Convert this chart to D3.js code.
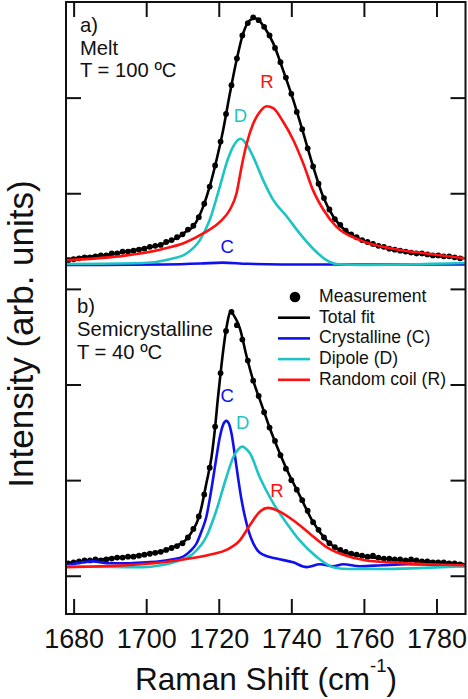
<!DOCTYPE html>
<html><head><meta charset="utf-8">
<script src="https://cdn.jsdelivr.net/npm/d3@7"></script>
<style>body{margin:0;background:#fff}svg{display:block}text{font-family:"Liberation Sans",Arial,Helvetica,sans-serif}</style>
</head><body><svg id="c" width="468" height="699"></svg>
<script>
// ---------- data ----------
const xTicks = [1680, 1700, 1720, 1740, 1760, 1780];
const yTicks = [0, 1, 2, 3, 4, 5];
const seriesNames = ["Measurement", "Total fit", "Crystalline (C)", "Dipole (D)", "Random coil (R)"];
const seriesColors = ["#000000", "#000000", "#1010ee", "#1ec4c4", "#ff1010"];

const measX = [1678.5,1680,1681.5,1683,1684.5,1686,1687.5,1689,1690.5,1692,1693.5,1695,1696.5,1698,1699.5,1701,1702.5,1704,1705.5,1707,1708.5,1710,1711.5,1713,1714.5,1716,1717.5,1719,1720.5,1722,1723.5,1725,1726.5,1728,1729.5,1731,1732.5,1734,1735.5,1737,1738.5,1740,1741.5,1743,1744.5,1746,1747.5,1749,1750.5,1752,1753.5,1755,1756.5,1758,1759.5,1761,1762.5,1764,1765.5,1767,1768.5,1770,1771.5,1773,1774.5,1776,1777.5,1779,1780.5,1782,1783.5,1785,1786.5];

// Panel a) Melt, T = 100 ºC
const meltMeas = [0.05,0.06,0.07,0.08,0.08,0.09,0.10,0.10,0.12,0.12,0.14,0.14,0.15,0.16,0.17,0.19,0.20,0.21,0.24,0.26,0.29,0.32,0.37,0.41,0.50,0.64,0.82,1.04,1.29,1.58,1.88,2.16,2.40,2.53,2.59,2.56,2.49,2.40,2.27,2.12,1.96,1.79,1.60,1.42,1.22,1.03,0.85,0.70,0.58,0.48,0.42,0.36,0.32,0.29,0.26,0.24,0.22,0.20,0.19,0.17,0.16,0.15,0.14,0.13,0.12,0.12,0.11,0.10,0.10,0.09,0.09,0.08,0.07];
const meltFit = [[1678,0.06],[1685,0.09],[1690,0.11],[1694.6,0.14],[1700,0.18],[1703.8,0.21],[1707,0.26],[1709.3,0.30],[1711,0.35],[1712.9,0.40],[1714.5,0.50],[1715.7,0.61],[1717.5,0.82],[1719.4,1.10],[1721.2,1.41],[1723.1,1.80],[1724.9,2.14],[1726.7,2.42],[1728.6,2.56],[1730,2.58],[1731.5,2.54],[1733,2.46],[1735,2.32],[1737.7,2.04],[1740.5,1.73],[1743.3,1.38],[1746,1.03],[1748.8,0.71],[1751.5,0.51],[1755.2,0.35],[1760.7,0.24],[1768,0.16],[1777.2,0.11],[1787.8,0.07]];
const meltC = [[1678,0.0],[1705,0.005],[1715,0.015],[1721,0.025],[1728,0.012],[1745,0.005],[1787.8,0.005]];
const meltD = [[1678,0.01],[1699.2,0.02],[1706.5,0.06],[1711.1,0.12],[1714.8,0.26],[1717.5,0.47],[1720.3,0.82],[1722.1,1.06],[1724,1.24],[1726,1.32],[1727.7,1.26],[1729.5,1.13],[1732.2,0.89],[1735,0.68],[1738.7,0.51],[1742.3,0.33],[1746,0.17],[1749.7,0.05],[1752.4,0.01],[1758.9,0.0],[1787.8,0.02]];
const meltR = [[1678,0.05],[1694.6,0.10],[1703.8,0.16],[1711.1,0.24],[1715.7,0.33],[1720.3,0.45],[1723.1,0.58],[1724.9,0.75],[1726.3,1.03],[1727.7,1.27],[1729.5,1.48],[1731.3,1.60],[1733.2,1.66],[1735,1.64],[1737.7,1.50],[1740.5,1.31],[1743.3,1.06],[1746,0.78],[1748.8,0.58],[1752.4,0.40],[1758.9,0.26],[1768,0.17],[1777.2,0.12],[1787.8,0.07]];

// Panel b) Semicrystalline, T = 40 ºC
const semiMeas = [0.04,0.05,0.06,0.07,0.07,0.08,0.07,0.08,0.09,0.10,0.10,0.11,0.11,0.12,0.13,0.14,0.15,0.16,0.18,0.20,0.22,0.25,0.31,0.40,0.53,0.76,1.04,1.47,2.03,2.47,2.67,2.53,2.38,2.16,1.95,1.79,1.62,1.46,1.32,1.17,1.03,0.91,0.81,0.70,0.59,0.47,0.39,0.31,0.25,0.21,0.18,0.16,0.14,0.13,0.12,0.11,0.12,0.10,0.09,0.09,0.08,0.08,0.07,0.08,0.07,0.06,0.06,0.05,0.05,0.05,0.04,0.04,0.03];
const semiFit = [[1678,0.04],[1685,0.07],[1690,0.09],[1695,0.11],[1699.2,0.13],[1702,0.15],[1705.6,0.18],[1708,0.22],[1710.2,0.26],[1711.5,0.31],[1712.9,0.39],[1714,0.47],[1714.8,0.56],[1716.6,0.88],[1718,1.15],[1718.9,1.43],[1719.8,1.78],[1720.8,2.13],[1722.1,2.50],[1723.3,2.67],[1724.2,2.63],[1725.8,2.50],[1727.7,2.20],[1729.5,1.95],[1731.8,1.70],[1734.1,1.45],[1736.5,1.22],[1739,1.00],[1742.3,0.75],[1746,0.47],[1749.7,0.28],[1754.3,0.16],[1760.7,0.11],[1768,0.08],[1777.2,0.06],[1787.8,0.03]];
const semiC = [[1678,0.02],[1685.4,0.06],[1690,0.04],[1694.6,0.04],[1700,0.05],[1703.8,0.06],[1707,0.08],[1710.2,0.11],[1712.2,0.17],[1713.9,0.25],[1715.3,0.38],[1716.6,0.53],[1717.6,0.73],[1718.5,0.94],[1719.4,1.16],[1720.3,1.36],[1721.2,1.49],[1722.1,1.53],[1722.8,1.50],[1723.5,1.40],[1724.4,1.18],[1725.3,0.94],[1726.2,0.72],[1727.2,0.53],[1728.3,0.37],[1729.5,0.25],[1730.8,0.17],[1732.2,0.13],[1735.9,0.09],[1740.5,0.05],[1744.2,0.0],[1747.9,0.03],[1751.5,0.01],[1754.3,0.03],[1758.9,0.01],[1765,0.02],[1772,0.03],[1787.8,0.01]];
const semiD = [[1678,0.01],[1699.2,0.0],[1704,0.02],[1708.3,0.06],[1712.9,0.14],[1716.6,0.32],[1719.4,0.60],[1722.1,0.94],[1724,1.15],[1725.3,1.23],[1726.6,1.26],[1727.7,1.23],[1728.6,1.19],[1731.3,0.94],[1735,0.67],[1738.7,0.46],[1742.3,0.28],[1746.9,0.11],[1751.5,0.0],[1756.1,-0.02],[1765,-0.02],[1775,-0.01],[1787.8,0.01]];
const semiR = [[1678,0.0],[1694.6,0.02],[1708.3,0.07],[1717.5,0.13],[1722.1,0.18],[1725.8,0.28],[1728.6,0.44],[1731.3,0.58],[1733.6,0.62],[1736.8,0.58],[1740.5,0.49],[1745.1,0.35],[1749.7,0.21],[1754.3,0.13],[1760.7,0.07],[1768,0.05],[1777.2,0.03],[1787.8,0.02]];

const panelText = [["a)", "Melt", "T = 100 ºC"], ["b)", "Semicrystalline", "T = 40 ºC"]];
const peakLabels = [
  [["R", 1733.3, 1.85], ["D", 1726.0, 1.50], ["C", 1722.3, 0.13]],
  [["C", 1722.3, 1.73], ["D", 1726.6, 1.44], ["R", 1736.0, 0.73]]
];

// ---------- layout ----------
const L = 66, R = 465.5, T = 2, B = 614;
const panelBase = [3.25, 0.09];   // baseline offset of each panel on the shared frame scale
const svg = d3.select("#c");
const x = d3.scaleLinear().domain([1677.9, 1788]).range([L, R]);
const y = d3.scaleLinear().domain([-0.4, 6]).range([B, T]);

// scale a text's font size so its rendered width matches target
function fitFont(sel, target) {
  const fs = +sel.attr("font-size");
  const bb = sel.node().getBBox();
  return fs * target / bb.width;
}

svg.append("defs").append("clipPath").attr("id", "clip")
  .append("rect").attr("x", L).attr("y", T).attr("width", R - L).attr("height", B - T);

const panels = [
  {meas: meltMeas, fit: meltFit, comps: [meltC, meltD, meltR]},
  {meas: semiMeas, fit: semiFit, comps: [semiC, semiD, semiR]}
];

const plot = svg.append("g").attr("clip-path", "url(#clip)");
panels.forEach((p, i) => {
  const base = panelBase[i];
  const line = d3.line().x(d => x(d[0])).y(d => y(d[1] + base)).curve(d3.curveMonotoneX);
  const g = plot.append("g");
  g.selectAll("circle").data(d3.zip(measX, p.meas)).join("circle")
    .attr("cx", d => x(d[0])).attr("cy", d => y(d[1] + base)).attr("r", 2.9).attr("fill", "#000");
  g.append("path").datum(p.fit).attr("d", line).attr("fill", "none")
    .attr("stroke", seriesColors[1]).attr("stroke-width", 2.6);
  p.comps.forEach((c, k) => {
    g.append("path").datum(c).attr("d", line).attr("fill", "none")
      .attr("stroke", seriesColors[k + 2]).attr("stroke-width", 2.6).attr("stroke-linejoin", "round");
  });
  peakLabels[i].forEach(([t, px, py]) => {
    const k = ["C", "D", "R"].indexOf(t);
    svg.append("text").attr("x", x(px)).attr("y", y(py + base)).attr("text-anchor", "middle")
      .attr("font-size", 18.5).attr("fill", seriesColors[k + 2]).text(t);
  });
});

// panel annotations
const annX = [80, 77], annY = [[32, 55, 77], [313, 336, 359]];
const probe = svg.append("text").attr("font-size", 20).text("Semicrystalline");
const annFs = fitFont(probe, 136);
probe.remove();
panelText.forEach((lines, i) => {
  lines.forEach((t, j) => {
    svg.append("text").attr("x", annX[i]).attr("y", annY[i][j]).attr("font-size", annFs).attr("fill", "#111").text(t);
  });
});

// axes (ticks inward)
const ax = (g, a) => { g.call(a); g.select(".domain").remove(); g.selectAll(".tick line").attr("stroke", "#111").attr("stroke-width", 2); };
const p2 = svg.append("text").attr("font-size", 28).text("1680");
const tickFs = fitFont(p2, 60);
p2.remove();
const bx = svg.append("g").attr("transform", `translate(0,${B})`)
  .call(g => ax(g, d3.axisBottom(x).tickValues(xTicks).tickSizeInner(-15).tickSizeOuter(0).tickPadding(0).tickFormat(d3.format("d"))));
bx.selectAll("text").attr("font-size", tickFs).attr("fill", "#111").attr("dy", null).attr("y", 34);
svg.append("g").attr("transform", `translate(0,${T})`)
  .call(g => ax(g, d3.axisTop(x).tickValues(xTicks).tickSizeInner(-15).tickSizeOuter(0).tickFormat("")));
svg.append("g").attr("transform", `translate(${L},0)`)
  .call(g => ax(g, d3.axisLeft(y).tickValues(yTicks).tickSizeInner(-15).tickSizeOuter(0).tickFormat("")));
svg.append("g").attr("transform", `translate(${R},0)`)
  .call(g => ax(g, d3.axisRight(y).tickValues(yTicks).tickSizeInner(-15).tickSizeOuter(0).tickFormat("")));

// frame
svg.append("rect").attr("x", L).attr("y", T).attr("width", R - L).attr("height", B - T)
  .attr("fill", "none").attr("stroke", "#111").attr("stroke-width", 2);

// legend
const lgX = 278, lgY0 = 302, lgDy = 20.7;
const p3 = svg.append("text").attr("font-size", 17.6).text("Random coil (R)");
const lgFs = fitFont(p3, 127);
p3.remove();
seriesNames.forEach((n, i) => {
  const yy = lgY0 + i * lgDy;
  if (i === 0) {
    svg.append("circle").attr("cx", 295).attr("cy", yy - 5).attr("r", 5.3).attr("fill", "#000");
  } else {
    svg.append("line").attr("x1", lgX).attr("x2", lgX + 32).attr("y1", yy - 5).attr("y2", yy - 5)
      .attr("stroke", seriesColors[i]).attr("stroke-width", 2.6);
  }
  svg.append("text").attr("x", 319).attr("y", yy).attr("font-size", lgFs).attr("fill", "#111").text(n);
});

// axis titles
const xt = svg.append("text").attr("x", 266).attr("y", 690).attr("text-anchor", "middle")
  .attr("font-size", 29).attr("fill", "#111");
xt.append("tspan").text("Raman Shift (cm");
const sup = xt.append("tspan").attr("font-size", 17).attr("dy", -18).text("-1");
xt.append("tspan").attr("dy", 18).text(")");
{
  const bb = xt.node().getBBox();
  const k = 262 / bb.width;
  xt.attr("font-size", 29 * k);
  sup.attr("font-size", 17 * k);
}

const yt = svg.append("text").attr("text-anchor", "middle").attr("font-size", 34).attr("fill", "#111").text("Intensity (arb. units)");
const ytFs = Math.min(fitFont(yt, 346), 35);
yt.attr("font-size", ytFs).attr("transform", `translate(${1 + 0.9 * ytFs},334) rotate(-90)`);
</script></body></html>
